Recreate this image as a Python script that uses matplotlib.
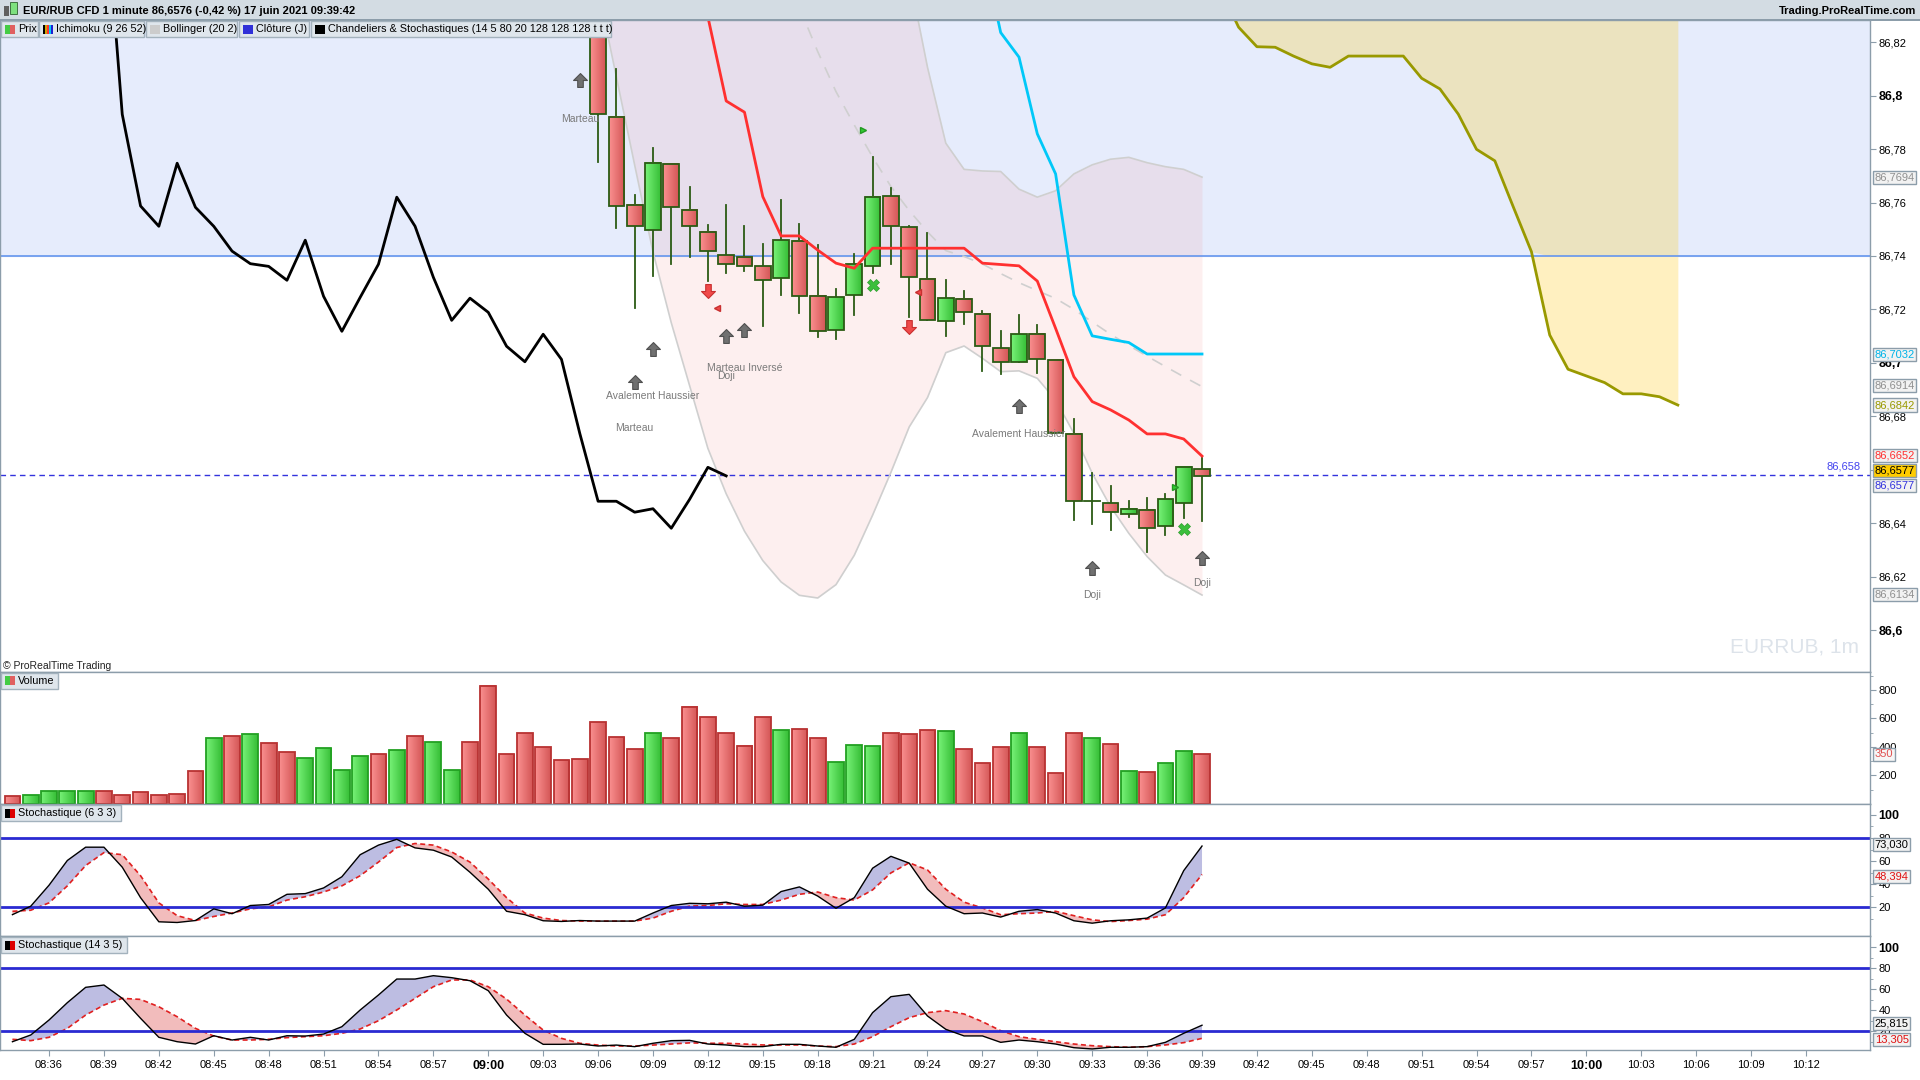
import numpy as np
import matplotlib
matplotlib.use('Agg')
import matplotlib.pyplot as plt
from matplotlib.patches import Rectangle
from matplotlib.path import Path
from matplotlib.colors import LinearSegmentedColormap

plt.rcParams['font.family'] = ['Liberation Sans', 'DejaVu Sans']

# minute index: 0 = 09:06
# candles 09:06 .. 09:39
opens = [86.8600, 86.7921, 86.7590, 86.7496, 86.7743, 86.7571, 86.7490, 86.7403, 86.7396, 86.7361,
         86.7317, 86.7455, 86.7249, 86.7124, 86.7253, 86.7361, 86.7623, 86.7507, 86.7315, 86.7156,
         86.7238, 86.7182, 86.7055, 86.7004, 86.7107, 86.7010, 86.6733, 86.6482, 86.6474, 86.6433,
         86.6451, 86.6388, 86.6474, 86.6602]
highs = [86.8800, 86.8099, 86.7628, 86.7804, 86.7743, 86.7658, 86.7516, 86.7591, 86.7512, 86.7445,
         86.7610, 86.7520, 86.7441, 86.7275, 86.7406, 86.7772, 86.7653, 86.7512, 86.7485, 86.7310,
         86.7269, 86.7194, 86.7119, 86.7179, 86.7142, 86.7010, 86.6791, 86.6587, 86.6539, 86.6482,
         86.6493, 86.6509, 86.6609, 86.6651]
lows = [86.7753, 86.7504, 86.7204, 86.7326, 86.7369, 86.7395, 86.7308, 86.7338, 86.7345, 86.7139,
        86.7255, 86.7188, 86.7098, 86.7088, 86.7180, 86.7335, 86.7369, 86.7173, 86.7159, 86.7102,
        86.7147, 86.6971, 86.6957, 86.7004, 86.6961, 86.6736, 86.6411, 86.6396, 86.6373, 86.6422,
        86.6291, 86.6355, 86.6418, 86.6407]
closes = [86.7930, 86.7587, 86.7511, 86.7747, 86.7582, 86.7511, 86.7418, 86.7371, 86.7361, 86.7309,
          86.7459, 86.7249, 86.7118, 86.7245, 86.7369, 86.7620, 86.7511, 86.7320, 86.7159, 86.7242,
          86.7189, 86.7062, 86.7004, 86.7107, 86.7013, 86.6736, 86.6482, 86.6482, 86.6441, 86.6454,
          86.6381, 86.6489, 86.6609, 86.6577]
close_0905 = 86.88

# ichimoku / bollinger
tenkan = [86.8295, 86.7980, 86.7938, 86.7622, 86.7475, 86.7475, 86.7422, 86.7373, 86.7354, 86.7429,
          86.7429, 86.7429, 86.7429, 86.7429, 86.7429, 86.7373, 86.7368, 86.7363, 86.7306, 86.7129,
          86.6948, 86.6855, 86.6824, 86.6786, 86.6734, 86.6734, 86.6715, 86.6651]          # 09:12 ->
kijun = [86.8550, 86.8236, 86.8144, 86.7857, 86.7707, 86.7254, 86.7101, 86.7088, 86.7076, 86.7033,
         86.7033, 86.7033, 86.7033]                                                          # 09:27 ->
bb_up = [86.8450, 86.8106, 86.7822, 86.7724, 86.7718, 86.7716, 86.7650, 86.7620, 86.7644, 86.7707,
         86.7741, 86.7762, 86.7769, 86.7749, 86.7734, 86.7724, 86.7695]                      # 09:23 ->
bb_mid = [86.8330, 86.8165, 86.8015, 86.7890, 86.7770, 86.7660, 86.7570, 86.7490, 86.7420, 86.7398,
          86.7370, 86.7334, 86.7300, 86.7270, 86.7241, 86.7200, 86.7153, 86.7107, 86.7065, 86.7025,
          86.6986, 86.6948, 86.6911]                                                         # 09:17 ->
bb_low = [86.8400, 86.8070, 86.7740, 86.7415, 86.7150, 86.6915, 86.6680, 86.6510, 86.6370, 86.6260,
          86.6180, 86.6130, 86.6120, 86.6170, 86.6280, 86.6430, 86.6590, 86.6760, 86.6870, 86.7038,
          86.7063, 86.7017, 86.6967, 86.6970, 86.6942, 86.6861, 86.6736, 86.6587, 86.6462, 86.6362,
          86.6275, 86.6206, 86.6169, 86.6131]                                                # 09:06 ->
span_a = [86.8400, 86.8256, 86.8183, 86.8181, 86.8148, 86.8119, 86.8106, 86.8148, 86.8148, 86.8148,
          86.8148, 86.8065, 86.8025, 86.7931, 86.7799, 86.7756, 86.7585, 86.7416, 86.7104, 86.6976,
          86.6951, 86.6926, 86.6884, 86.6884, 86.6873, 86.6842]                              # 09:40 -> 10:05
close_j = 86.74
last_price = 86.658

# 08:34 .. 09:39
volume = [56, 63, 89, 89, 89, 89, 63, 82, 63, 68, 229, 460, 474, 488, 425, 362, 320, 390, 236, 334,
          348, 376, 474, 432, 236, 432, 831, 348, 495, 397, 306, 313,
          572, 467, 383, 495, 460, 681, 607, 495, 408, 607, 516, 523, 460, 292, 411, 404, 495, 488,
          516, 509, 383, 285, 397, 495, 397, 215, 495, 460, 418, 229, 222, 285, 369, 348]
vol_up = [0, 1, 1, 1, 1, 0, 0, 0, 0, 0, 0, 1, 0, 1, 0, 0, 1, 1, 1, 1,
          0, 1, 0, 1, 1, 0, 0, 0, 0, 0, 0, 0,
          0, 0, 0, 1, 0, 0, 0, 0, 0, 0, 1, 0, 0, 1, 1, 1, 0, 0,
          0, 1, 0, 0, 0, 1, 0, 0, 0, 1, 0, 1, 0, 1, 1, 0]
stoch1_k = [13.6, 20.9, 39.1, 60.5, 72.0, 72.0, 54.7, 28.3, 7.4, 6.8, 8.5, 18.6, 14.4, 21.5, 22.4, 31.2,
            31.8, 36.7, 46.4, 65.5, 73.8, 78.8, 71.4, 69.4, 63.5, 50.3, 35.6, 16.5, 13.6, 8.3, 7.7, 8.5,
            8.0, 8.0, 8.0, 15.0, 21.5, 23.4, 23.0, 24.4, 20.9, 21.8, 33.6, 37.6, 29.7, 19.1, 28.3, 53.8,
            64.1, 58.2, 35.6, 20.9, 14.4, 15.0, 11.5, 16.5, 18.0, 15.0, 8.3, 6.2, 8.3, 9.1, 10.6, 19.4,
            51.7, 73.0]
stoch1_d = [16.5, 17.4, 23.8, 38.5, 56.1, 67.3, 65.5, 47.3, 23.8, 12.7, 8.5, 12.0, 15.0, 18.6, 20.3, 26.2,
            29.1, 33.2, 38.5, 47.3, 59.1, 71.7, 75.2, 73.8, 67.9, 59.1, 44.4, 28.3, 15.0, 10.6, 8.5, 8.0,
            8.0, 8.0, 8.0, 10.6, 16.5, 21.0, 21.5, 23.0, 22.4, 22.4, 26.2, 31.2, 33.2, 28.3, 26.2, 35.0,
            49.7, 58.5, 52.3, 35.6, 24.4, 19.4, 13.5, 14.4, 15.0, 16.5, 12.7, 9.1, 7.6, 8.5, 9.7, 13.5,
            28.3, 48.4]
stoch2_k = [10.1, 16.5, 30.8, 47.3, 61.9, 64.1, 51.4, 32.4, 14.3, 10.1, 7.9, 15.8, 11.7, 14.3, 11.7, 15.8,
            15.5, 17.4, 24.4, 40.3, 54.6, 69.8, 69.8, 73.0, 71.1, 68.2, 58.7, 35.5, 18.1, 7.6, 7.6, 7.9,
            6.0, 6.9, 5.4, 8.6, 11.1, 11.4, 7.9, 7.0, 5.4, 5.4, 7.6, 7.6, 6.0, 4.8, 12.4, 37.8,
            53.0, 55.2, 34.6, 21.9, 15.6, 15.6, 9.5, 11.7, 10.1, 7.9, 4.4, 3.2, 4.8, 4.8, 5.4, 9.5,
            18.1, 25.8]
stoch2_d = [12.4, 11.1, 14.3, 22.8, 35.5, 45.0, 51.4, 50.4, 43.4, 33.9, 22.8, 15.5, 11.7, 11.7, 12.4, 14.0,
            14.9, 15.8, 18.1, 22.2, 30.1, 40.3, 51.4, 62.5, 68.9, 68.9, 62.5, 50.7, 35.5, 21.2, 13.3, 8.6,
            6.9, 6.0, 6.0, 6.9, 7.9, 9.0, 8.6, 8.6, 7.9, 7.0, 7.0, 7.0, 6.0, 5.4, 7.9, 14.9,
            24.4, 33.0, 37.8, 39.7, 36.5, 29.2, 20.6, 14.9, 12.4, 10.1, 7.9, 6.3, 5.4, 4.8, 5.4, 7.0,
            9.2, 13.3]

xtick_labels = ['08:36', '08:39', '08:42', '08:45', '08:48', '08:51', '08:54', '08:57', '09:00', '09:03',
                '09:06', '09:09', '09:12', '09:15', '09:18', '09:21', '09:24', '09:27', '09:30', '09:33',
                '09:36', '09:39', '09:42', '09:45', '09:48', '09:51', '09:54', '09:57', '10:00', '10:03',
                '10:06', '10:09', '10:12']

# candlestick patterns (minute index, price, label)
up_arrows = [(-1, 86.8059), (2, 86.6930), (3, 86.7052), (7, 86.7102), (8, 86.7124), (23, 86.6839),
             (27, 86.6233), (33, 86.6269)]
down_arrows = [(6, 86.7270), (17, 86.7135)]
red_tris = [(6.5, 86.7204), (17.5, 86.7264)]
green_tris = [(14.5, 86.7872), (31.5, 86.6534)]
green_x = [(15, 86.7291), (32, 86.6377)]
pattern_labels = [(-1, 86.7913, 'Marteau'), (3, 86.6877, 'Avalement Haussier'), (2, 86.6757, 'Marteau'),
                  (8, 86.6982, 'Marteau Inversé'), (7, 86.6951, 'Doji'), (23, 86.6734, 'Avalement Haussier'),
                  (27, 86.6131, 'Doji'), (33, 86.6177, 'Doji')]

# ---------------------------------------------------------------
W, H = 1920.0, 1080.0
fig = plt.figure(figsize=(19.2, 10.8), dpi=100)
fig.patch.set_facecolor('white')


def fr(x0, y0, x1, y1):
    return [x0 / W, 1 - y1 / H, (x1 - x0) / W, (y1 - y0) / H]


frame = '#8c9daa'
ax_p = fig.add_axes(fr(0, 20, 1870, 672))
ax_v = fig.add_axes(fr(0, 672, 1870, 804), sharex=ax_p)
ax_s1 = fig.add_axes(fr(0, 804, 1870, 936), sharex=ax_p)
ax_s2 = fig.add_axes(fr(0, 936, 1870, 1050), sharex=ax_p)
axes = [ax_p, ax_v, ax_s1, ax_s2]
for ax in axes:
    ax.yaxis.tick_right()
    for s in ax.spines.values():
        s.set_color(frame)
        s.set_linewidth(1)
    ax.tick_params(axis='y', which='both', colors=frame, labelcolor='black', labelsize=8, length=4, pad=2)
    ax.tick_params(axis='y', which='minor', length=2)
    ax.tick_params(axis='x', which='both', length=0, labelbottom=False)

red_cmap = LinearSegmentedColormap.from_list('r', ['#fa9090', '#d45656'])
green_cmap = LinearSegmentedColormap.from_list('g', ['#78f278', '#36be36'])
grad = np.linspace(0, 1, 32).reshape(1, -1)


def grad_bar(ax, x, lo, hi, w, up, edge, z):
    ax.imshow(grad, cmap=green_cmap if up else red_cmap, extent=[x - w / 2, x + w / 2, lo, hi],
              aspect='auto', zorder=z, interpolation='bilinear')
    ax.add_patch(Rectangle((x - w / 2, lo), w, hi - lo, fill=False, edgecolor=edge, lw=1.3, zorder=z + 0.1))


# ---------------- price panel
xl = (-32.68, 69.5)
yl = (86.5843, 86.8283)
ax_p.axhspan(close_j, 87.0, color='#e6ecfc', zorder=0)

xa = np.arange(34, 34 + len(span_a))
sa = np.array(span_a)
ax_p.fill_between(xa, np.maximum(sa, close_j), 87.0, color='#ebe3bf', lw=0, zorder=0.5)
ax_p.fill_between(xa, sa, close_j, where=sa < close_j, interpolate=True, color='#fff0c0', lw=0, zorder=0.5)
ax_p.plot(xa, sa, color='#999900', lw=2, zorder=3)

xb = np.arange(0, 34)
up_full = np.array([87.0] * 17 + bb_up)
ax_p.fill_between(xb, bb_low, up_full, color='#f08080', alpha=0.12, lw=0, zorder=1)
ax_p.plot(np.arange(17, 34), bb_up, color='#cfcfcf', lw=1.2, zorder=2)
ax_p.plot(xb, bb_low, color='#cfcfcf', lw=1.2, zorder=2)
ax_p.plot(np.arange(11, 34), bb_mid, color='#cfcfcf', lw=1.2, dashes=(7, 6), zorder=2)

ax_p.axhline(close_j, color='#6495ed', lw=1.2, zorder=1.5)
ax_p.axhline(last_price, color='#3333dd', lw=1, dashes=(4, 3), zorder=1.5)

chikou_x = np.arange(-1, 34) - 26
ax_p.plot(chikou_x, [close_0905] + closes, color='black', lw=2, zorder=3)
ax_p.plot(np.arange(6, 34), tenkan, color='#ff3030', lw=2, zorder=4.5)
ax_p.plot(np.arange(21, 34), kijun, color='#00c8f8', lw=2, zorder=3)

wick = '#2b5b14'
cw = 0.86
for i in range(34):
    o, h, l, c = opens[i], highs[i], lows[i], closes[i]
    ax_p.plot([i, i], [l, h], color=wick, lw=1.3, zorder=3.5)
    if abs(c - o) < 1e-6:
        ax_p.plot([i - cw / 2, i + cw / 2], [c, c], color=wick, lw=1.3, zorder=4)
    else:
        grad_bar(ax_p, i, min(o, c), max(o, c), cw, c > o, wick, 4)

up_path = Path([(-0.2, -0.5), (0.2, -0.5), (0.2, 0.0), (0.5, 0.0), (0.0, 0.5), (-0.5, 0.0),
                (-0.2, 0.0), (-0.2, -0.5)], closed=True)
dn_path = Path([(x, -y) for x, y in up_path.vertices], closed=True)
for x, y in up_arrows:
    ax_p.plot(x, y, marker=up_path, ms=10, mfc='#707070', mec='#505050', mew=0.8, zorder=6)
for x, y in down_arrows:
    ax_p.plot(x, y, marker=dn_path, ms=10, mfc='#f04a4a', mec='#c83030', mew=0.8, zorder=6)
for x, y in red_tris:
    ax_p.plot(x, y, marker='<', ms=5, mfc='#f04a4a', mec='#c83030', zorder=6)
for x, y in green_tris:
    ax_p.plot(x, y, marker='>', ms=5, mfc='#33cc33', mec='#229922', zorder=6)
for x, y in green_x:
    ax_p.plot(x, y, marker='X', ms=9, mfc='#3cbf3c', mec='#2e9e2e', mew=0.5, zorder=6)
for x, y, t in pattern_labels:
    ax_p.text(x, y, t, ha='center', va='center', fontsize=7.5, color='#7a7a7a', zorder=6)

ax_p.set_xlim(*xl)
ax_p.set_ylim(*yl)
pt = [86.60, 86.62, 86.64, 86.66, 86.68, 86.70, 86.72, 86.74, 86.76, 86.78, 86.80, 86.82]
ax_p.set_yticks(pt, ['86,6', '86,62', '86,64', '86,66', '86,68', '86,7', '86,72', '86,74', '86,76',
                     '86,78', '86,8', '86,82'])
for lab in ax_p.get_yticklabels():
    if lab.get_text() in ('86,6', '86,7', '86,8'):
        lab.set_fontweight('bold')
        lab.set_fontsize(9)


def axis_box(ax, y, txt, color, face='#f2f2f2'):
    ax.text(1.0025, y, txt, transform=ax.get_yaxis_transform(), ha='left', va='center', fontsize=8,
            color=color, clip_on=False, zorder=10,
            bbox=dict(boxstyle='square,pad=0.14', fc=face, ec=frame, lw=1))


axis_box(ax_p, 86.7694, '86,7694', '#909090')
axis_box(ax_p, 86.7032, '86,7032', '#00b4e8')
axis_box(ax_p, 86.6914, '86,6914', '#909090')
axis_box(ax_p, 86.6842, '86,6842', '#999900')
axis_box(ax_p, 86.6652, '86,6652', '#ff3030')
axis_box(ax_p, 86.6598, '86,6577', 'black', face='#ffcc00')
axis_box(ax_p, 86.6540, '86,6577', '#3333dd')
axis_box(ax_p, 86.6134, '86,6134', '#909090')
ax_p.text(0.995, last_price + 0.0012, '86,658', transform=ax_p.get_yaxis_transform(), ha='right',
          va='bottom', fontsize=8, color='#4444ee')
ax_p.text(0.994, 86.5935, 'EURRUB, 1m', transform=ax_p.get_yaxis_transform(), ha='right', va='center',
          fontsize=15, color='#dde3ea')
ax_p.text(0.0015, 0.002, '© ProRealTime Trading', transform=ax_p.transAxes, ha='left', va='bottom',
          fontsize=7.5, color='#222222')

# ---------------- volume
xv = np.arange(-32, 34)
for x, v, u in zip(xv, volume, vol_up):
    grad_bar(ax_v, x, 0, v, 0.86, u, '#22a022' if u else '#b83232', 3)
ax_v.set_ylim(0, 926)
ax_v.set_yticks([200, 400, 600, 800], ['200', '400', '600', '800'])
ax_v.set_yticks(np.arange(100, 1000, 100), minor=True)
axis_box(ax_v, volume[-1], '350', '#e05050', face='#f6f6f6')

# ---------------- stochastics
for ax, k, d, lim, kl, dl in [(ax_s1, stoch1_k, stoch1_d, (-4.9, 109.4), '73,030', '48,394'),
                             (ax_s2, stoch2_k, stoch2_d, (2.2, 110.8), '25,815', '13,305')]:
    k = np.array(k)
    d = np.array(d)
    ax.fill_between(xv, k, d, where=k >= d, interpolate=True, color='#bdbde2', lw=0, zorder=1)
    ax.fill_between(xv, k, d, where=k < d, interpolate=True, color='#f2bcbc', lw=0, zorder=1)
    ax.plot(xv, d, color='#e02020', lw=1.2, dashes=(3, 2), zorder=2)
    ax.plot(xv, k, color='black', lw=1, zorder=3)
    ax.axhline(80, color='#2a2ad2', lw=2, zorder=2.5)
    ax.axhline(20, color='#2a2ad2', lw=2, zorder=2.5)
    ax.set_ylim(*lim)
    ax.set_yticks([20, 40, 60, 80, 100], ['20', '40', '60', '80', '100'])
    ax.set_yticks([10, 30, 50, 70, 90], minor=True)
    for lab in ax.get_yticklabels():
        if lab.get_text() == '100':
            lab.set_fontweight('bold')
            lab.set_fontsize(9)
    axis_box(ax, k[-1] + 1.5, kl, 'black')
    axis_box(ax, d[-1] - 1.5, dl, '#e01010')

ax_s2.set_xticks(np.arange(-30, 67, 3), xtick_labels)
ax_s2.tick_params(axis='x', which='major', length=4, colors=frame, labelcolor='black', labelsize=8,
                  labelbottom=True, pad=3)
for lab in ax_s2.get_xticklabels():
    if lab.get_text() in ('09:00', '10:00'):
        lab.set_fontweight('bold')
        lab.set_fontsize(9)
ax_p.set_xlim(*xl)

# ---------------- header, legend boxes


def fbox(x0, y0, x1, y1, fc, ec='none', lw=1, z=5):
    fig.add_artist(Rectangle((x0 / W, 1 - y1 / H), (x1 - x0) / W, (y1 - y0) / H, transform=fig.transFigure,
                             fc=fc, ec=ec, lw=lw, zorder=z))


fbox(0, 0, 1920, 20, '#d3dce3')
fbox(0, 19, 1920, 20.5, '#8c9daa')
fbox(4, 6, 9, 16, '#606060', z=6)
fbox(10, 2, 17, 14, '#7ee07e', '#306030', 0.6, z=6)
fig.text(23 / W, 1 - 10.5 / H, 'EUR/RUB CFD 1 minute 86,6576 (-0,42 %) 17 juin 2021 09:39:42',
         fontsize=8, fontweight='bold', va='center', ha='left', zorder=7)
fig.text(1916 / W, 1 - 10.5 / H, 'Trading.ProRealTime.com', fontsize=8, fontweight='bold', va='center',
         ha='right', zorder=7)

legend_items = [(1, 38, 'Prix', ['#44cc44', '#e06060']),
                (39, 144, 'Ichimoku (9 26 52)', ['#000000', '#d0a000', '#ff3030', '#00c8f8', '#2020d0']),
                (146, 237, 'Bollinger (20 2)', ['#cccccc']),
                (239, 309, 'Clôture (J)', ['#3030d8']),
                (311, 611, 'Chandeliers & Stochastiques (14 5 80 20 128 128 128 t t t)', ['#000000'])]
panel_items = [(1, 672.5, 58, 'Volume', ['#44cc44', '#e06060']),
               (1, 805, 121, 'Stochastique (6 3 3)', ['#000000', '#dd0000']),
               (1, 937, 127, 'Stochastique (14 3 5)', ['#000000', '#dd0000'])]


def tag(x0, y0, x1, y1, text, cols):
    fbox(x0, y0, x1, y1, '#dfe6ec', '#a3b2bd', 1, z=8)
    n = len(cols)
    for j, c in enumerate(cols):
        fbox(x0 + 4 + j * 10.0 / n, y0 + 3.5, x0 + 4 + (j + 1) * 10.0 / n, y1 - 3.5, c, z=9)
    fig.text((x0 + 17) / W, 1 - (y0 + y1) / 2 / H, text, fontsize=7.8, va='center', ha='left', zorder=10)


for x0, x1, t, cols in legend_items:
    tag(x0, 21, x1, 37, t, cols)
for x0, y0, x1, t, cols in panel_items:
    tag(x0, y0, x1, y0 + 16, t, cols)

fig.savefig('out.png', dpi=100, facecolor='white')
